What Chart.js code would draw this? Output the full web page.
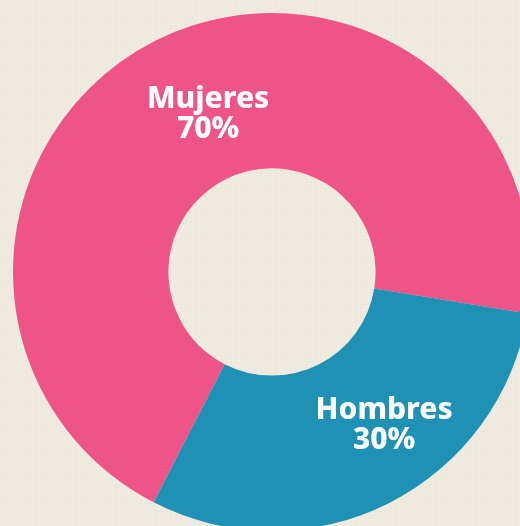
<!DOCTYPE html>
<html>
<head>
<meta charset="utf-8">
<script src="https://cdn.jsdelivr.net/npm/chart.js@4/dist/chart.umd.min.js"></script>
<style>
  html, body { margin: 0; padding: 0; width: 520px; height: 526px; overflow: hidden; }
  body {
    background-color: #eeeadf;
    background-image:
      repeating-linear-gradient(0deg, rgba(255,255,255,0.10) 0px, rgba(255,255,255,0.10) 1px, rgba(0,0,0,0) 1px, rgba(0,0,0,0) 3px),
      repeating-linear-gradient(90deg, rgba(190,175,140,0.035) 0px, rgba(190,175,140,0.035) 2px, rgba(0,0,0,0) 2px, rgba(0,0,0,0) 5px);
  }
  #wrap { position: absolute; left: 0; top: 0; width: 544px; height: 544px; }
</style>
</head>
<body>
<div id="wrap"><canvas id="c" width="544" height="544"></canvas></div>
<script>
const categories = ["Mujeres", "Hombres"];
const values = [70, 30];
const valueLabels = ["70%", "30%"];
const colors = ["#ef5489", "#1f91b4"];

const labelPlugin = {
  id: "sliceLabels",
  afterDatasetsDraw(chart, args, opts) {
    const ctx = chart.ctx;
    const meta = chart.getDatasetMeta(0);
    meta.data.forEach((arc, i) => {
      const p = arc.getProps(["x", "y", "startAngle", "endAngle", "innerRadius", "outerRadius"], true);
      const a = p.startAngle + (p.endAngle - p.startAngle) * opts.angleFrac[i];
      const r = p.innerRadius + (p.outerRadius - p.innerRadius) * opts.radiusFrac[i];
      const cx = p.x + Math.cos(a) * r;
      const cy = p.y + Math.sin(a) * r;
      ctx.save();
      ctx.fillStyle = "#ffffff";
      ctx.textAlign = "center";
      ctx.textBaseline = "middle";
      ctx.font = "800 30px 'Noto Sans', 'Open Sans', sans-serif";
      ctx.fillText(categories[i], cx, cy - 15);
      ctx.fillText(valueLabels[i], cx, cy + 15);
      ctx.restore();
    });
  }
};

new Chart(document.getElementById("c"), {
  type: "doughnut",
  data: {
    labels: categories,
    datasets: [{
      data: values,
      backgroundColor: colors,
      borderWidth: 0,
      hoverOffset: 0
    }]
  },
  options: {
    responsive: false,
    animation: false,
    rotation: 207.2,
    cutout: "40%",
    layout: { padding: 13 },
    plugins: {
      legend: { display: false },
      tooltip: { enabled: false },
      sliceLabels: { angleFrac: [0.519, 0.413], radiusFrac: [0.43, 0.555] }
    }
  },
  plugins: [labelPlugin]
});
</script>
</body>
</html>
